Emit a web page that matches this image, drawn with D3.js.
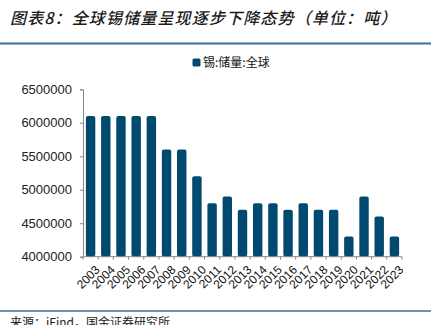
<!DOCTYPE html>
<html><head><meta charset="utf-8">
<script src="https://cdn.jsdelivr.net/npm/d3@7"></script>
<style>body{margin:0;background:#fff;} svg{display:block;}</style>
</head><body>
<svg id="c" width="433" height="325"></svg>
<script>
const years = ["2003","2004","2005","2006","2007","2008","2009","2010","2011","2012","2013","2014","2015","2016","2017","2018","2019","2020","2021","2022","2023"];
const reserves = [6100000,6100000,6100000,6100000,6100000,5600000,5600000,5200000,4800000,4900000,4700000,4800000,4800000,4700000,4800000,4700000,4700000,4300000,4900000,4600000,4300000];
const yTicks = [4000000,4500000,5000000,5500000,6000000,6500000];
const seriesName = "锡:储量:全球";
const title = "图表8：全球锡储量呈现逐步下降态势（单位：吨）";
const source = "来源：iFind，国金证券研究所";

const svg = d3.select("#c");
const font = "Arial, 'Liberation Sans', 'Noto Sans CJK SC', sans-serif";
const barColor = "#004a6f";

// Title
svg.append("text").attr("x",10).attr("y",24).text(title)
  .attr("font-family","'Noto Sans CJK SC', sans-serif").attr("font-size",16)
  .attr("font-style","italic").attr("font-weight",500).attr("fill","#1a1a1a")
  .attr("letter-spacing",1.15);
svg.append("line").attr("x1",0).attr("x2",431).attr("y1",43.5).attr("y2",43.5)
  .attr("stroke","#3b6e99").attr("stroke-width",2);

// Legend
svg.append("rect").attr("x",192.5).attr("y",58.5).attr("width",8).attr("height",8).attr("rx",1.5).attr("fill",barColor);
svg.append("text").attr("x",203).attr("y",67).text(seriesName)
  .attr("font-family","'Noto Sans CJK SC', sans-serif").attr("font-size",12).attr("fill","#111");

const x = d3.scaleBand().domain(years).range([83,402]).paddingInner(0.38).paddingOuter(0.19);
const y = d3.scaleLinear().domain([4000000,6500000]).range([256.7,89.3]);

// Bars
svg.append("g").selectAll("rect").data(years).join("rect")
  .attr("x",d=>x(d)).attr("width",x.bandwidth())
  .attr("y",(d,i)=>y(reserves[i])).attr("height",(d,i)=>y(4000000)-y(reserves[i]))
  .attr("rx",2).attr("fill",barColor);

// Y axis
const ya = svg.append("g").attr("transform","translate(83,0)")
  .call(d3.axisLeft(y).tickValues(yTicks).tickFormat(d3.format("d")).tickSize(3).tickPadding(8));
ya.selectAll("path,line").attr("stroke","#888");
ya.selectAll("text").attr("font-family",font).attr("font-size",13).attr("fill","#222");

// X axis
const xb = d3.scaleLinear().domain([0,years.length]).range([83,402]);
const xa = svg.append("g").attr("transform","translate(0,256.7)");
xa.append("line").attr("x1",83).attr("x2",402).attr("stroke","#888");
xa.selectAll("line.t").data(d3.range(years.length+1)).join("line").attr("class","t")
  .attr("x1",d=>xb(d)).attr("x2",d=>xb(d)).attr("y1",0).attr("y2",3).attr("stroke","#888");
xa.selectAll("text").data(years).join("text")
  .attr("transform",d=>`translate(${x(d)+x.bandwidth()/2+4},${8}) rotate(-45)`)
  .attr("text-anchor","end").attr("dy","0.7em")
  .attr("font-family",font).attr("font-size",12).attr("fill","#111").text(d=>d);

// Bottom line & source
svg.append("line").attr("x1",0).attr("x2",431).attr("y1",311).attr("y2",311)
  .attr("stroke","#3b6e99").attr("stroke-width",1.5);
svg.append("text").attr("x",10).attr("y",327).text(source)
  .attr("font-family","'Noto Sans CJK SC', sans-serif").attr("font-size",12).attr("fill","#222");
</script>
</body></html>
